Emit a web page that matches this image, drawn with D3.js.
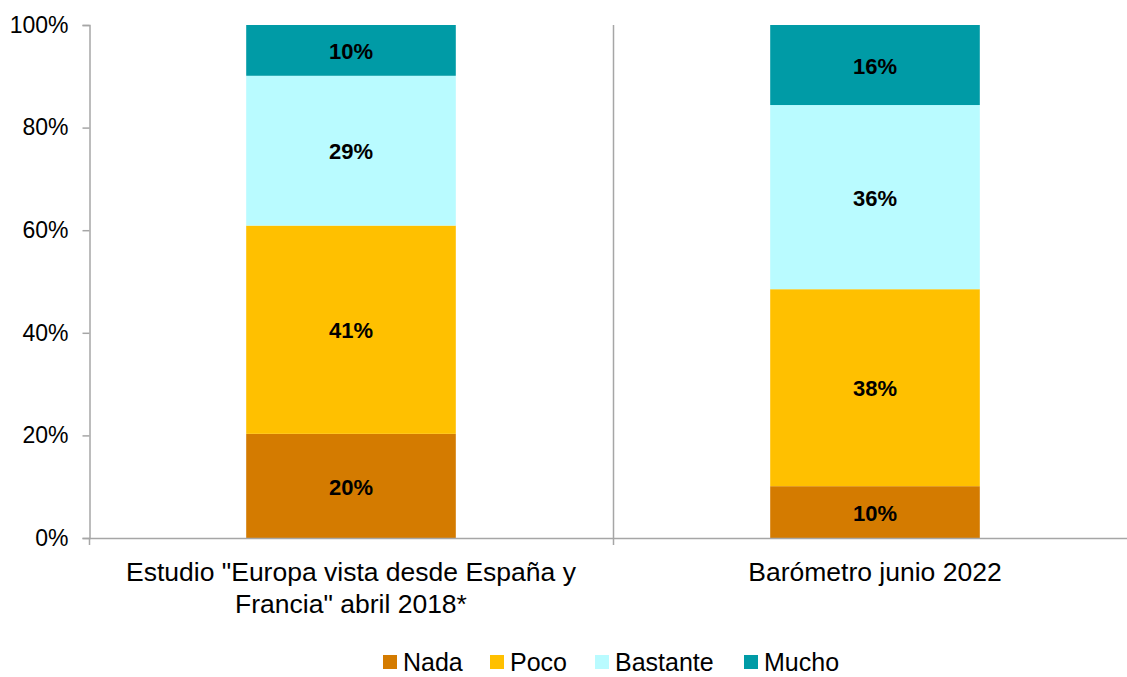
<!DOCTYPE html>
<html>
<head>
<meta charset="utf-8">
<script src="https://cdn.jsdelivr.net/npm/d3@7"></script>
<style>
  body { margin: 0; background: #fff; }
  text { font-family: "Liberation Sans", Arial, sans-serif; }
</style>
</head>
<body>
<svg width="1127" height="677"></svg>
<script>
// data (percent)
let categories = ['Estudio "Europa vista desde España y|Francia" abril 2018*', 'Barómetro junio 2022'];
let series = ["Nada", "Poco", "Bastante", "Mucho"];
let nada = [20.3, 10.1];
let poco = [40.6, 38.4];
let bastante = [29.2, 35.9];
let mucho = [9.9, 15.6];
let yTicks = [0, 20, 40, 60, 80, 100];
let colors = ["#D47B00", "#FFC000", "#B9FBFF", "#009BA6"];

let svg = d3.select("svg");
let margin = {left: 89, right: -10, top: 25, bottom: 139};
let width = 1127, height = 677;

let rows = categories.map(function(c, i) {
  return {cat: c, Nada: nada[i], Poco: poco[i], Bastante: bastante[i], Mucho: mucho[i]};
});
let stacked = d3.stack().keys(series)(rows);

let x = d3.scaleBand()
  .domain(categories)
  .range([margin.left, width - margin.right])
  .paddingInner(0).paddingOuter(0);
let y = d3.scaleLinear().domain([0, 100]).range([height - margin.bottom, margin.top]);
let barW = x.bandwidth() * 0.4;

// y axis
let yAxis = svg.append("g")
  .attr("transform", "translate(" + (margin.left + 0.5) + ",0)")
  .call(d3.axisLeft(y).tickValues(yTicks).tickSize(7).tickPadding(14).tickFormat(function(d) { return d + "%"; }));
yAxis.select(".domain").attr("stroke", "#a6a6a6").attr("stroke-width", 1.5);
yAxis.selectAll(".tick line").attr("stroke", "#a6a6a6").attr("stroke-width", 1.5);
yAxis.selectAll(".tick text").attr("font-size", 23).attr("fill", "#000");

// category separators
svg.append("g").selectAll("line")
  .data(categories.slice(1))
  .join("line")
  .attr("x1", function(d) { return Math.round(x(d)) + 0.5; })
  .attr("x2", function(d) { return Math.round(x(d)) + 0.5; })
  .attr("y1", y(100)).attr("y2", y(0) + 7)
  .attr("stroke", "#a6a6a6").attr("stroke-width", 1.5);
svg.append("line")
  .attr("x1", margin.left + 0.5).attr("x2", margin.left + 0.5)
  .attr("y1", y(0)).attr("y2", y(0) + 7)
  .attr("stroke", "#a6a6a6").attr("stroke-width", 1.5);

// bars
let layer = svg.append("g").selectAll("g")
  .data(stacked)
  .join("g")
  .attr("fill", function(d, i) { return colors[i]; });

layer.selectAll("rect")
  .data(function(d) { return d; })
  .join("rect")
  .attr("x", function(d) { return x(d.data.cat) + (x.bandwidth() - barW) / 2; })
  .attr("width", barW)
  .attr("y", function(d) { return y(d[1]); })
  .attr("height", function(d) { return y(d[0]) - y(d[1]); });

// x axis line
svg.append("line")
  .attr("x1", margin.left).attr("x2", width)
  .attr("y1", y(0) + 0.5).attr("y2", y(0) + 0.5)
  .attr("stroke", "#a6a6a6").attr("stroke-width", 1.5);

// value labels
layer.selectAll("text")
  .data(function(d) { return d; })
  .join("text")
  .attr("x", function(d) { return x(d.data.cat) + x.bandwidth() / 2; })
  .attr("y", function(d) { return (y(d[0]) + y(d[1])) / 2 + 1; })
  .attr("dy", "0.35em")
  .attr("text-anchor", "middle")
  .attr("font-size", 22).attr("font-weight", "bold").attr("fill", "#000")
  .text(function(d) { return Math.round(d[1] - d[0]) + "%"; });

// category labels
svg.append("g").selectAll("text")
  .data(categories)
  .join("text")
  .attr("x", function(d) { return x(d) + x.bandwidth() / 2; })
  .attr("y", y(0) + 43)
  .attr("text-anchor", "middle")
  .attr("font-size", 26.5).attr("fill", "#000")
  .selectAll("tspan")
  .data(function(d) { return d.split("|"); })
  .join("tspan")
  .attr("x", function() { return this.parentNode.getAttribute("x"); })
  .attr("dy", function(d, i) { return i ? 32 : 0; })
  .text(function(d) { return d; });

// legend
let legendX = [383, 490, 595, 744];
let legend = svg.append("g").selectAll("g")
  .data(series)
  .join("g")
  .attr("transform", function(d, i) { return "translate(" + legendX[i] + ",655)"; });
legend.append("rect").attr("width", 14).attr("height", 14)
  .attr("fill", function(d, i) { return colors[i]; });
legend.append("text").attr("x", 20).attr("y", 7).attr("dy", "0.36em")
  .attr("font-size", 25).attr("fill", "#000")
  .text(function(d) { return d; });
</script>
</body>
</html>
